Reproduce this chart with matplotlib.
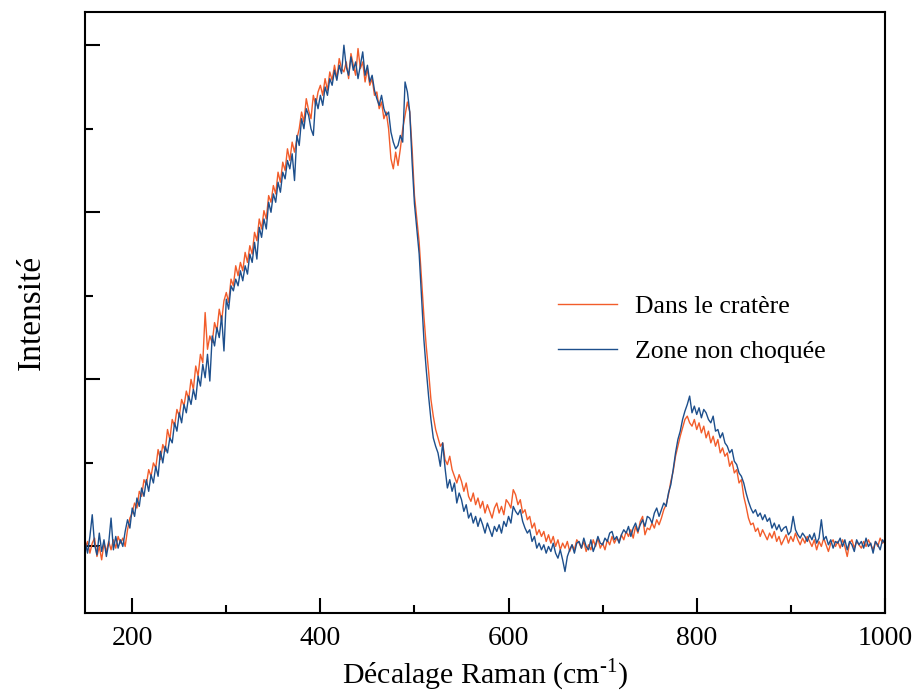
import numpy as np
import matplotlib
matplotlib.use('Agg')
import matplotlib.pyplot as plt
from matplotlib.ticker import MultipleLocator

plt.rcParams['font.family'] = ['Liberation Serif', 'DejaVu Serif']
plt.rcParams['mathtext.fontset'] = 'custom'
plt.rcParams['mathtext.rm'] = 'Liberation Serif'

# Raman shift (cm-1), one reading every 2.5 cm-1
shift = np.arange(150, 1000.1, 2.5)

# "Dans le cratère" (orange), 10 readings per row = 25 cm-1
crater = [
    -10, 30, -40, 20, 50, -60, 0, -80, 20, -30,
    30, -20, 40, -10, 60, 20, 50, 0, 100, 170,
    200, 260, 230, 330, 300, 400, 370, 460, 420, 500,
    470, 580, 520, 610, 570, 700, 640, 760, 720, 820,
    780, 880, 840, 930, 880, 1000, 940, 1080, 1020, 1150,
    1100, 1400, 1180, 1260, 1220, 1340, 1290, 1420, 1350, 1470,
    1520, 1460, 1600, 1560, 1680, 1620, 1700, 1650, 1760, 1700,
    1800, 1750, 1880, 1830, 1960, 1900, 2010, 1960, 2100, 2060,
    2160, 2110, 2240, 2180, 2300, 2250, 2380, 2310, 2420, 2360,
    2440, 2500, 2600, 2540, 2680, 2610, 2560, 2700, 2640, 2720,
    2760, 2700, 2800, 2730, 2840, 2790, 2880, 2800, 2920, 2860,
    2840, 2900, 2800, 2950, 2880, 2820, 2980, 2860, 2900, 2780,
    2860, 2760, 2800, 2700, 2720, 2620, 2660, 2560, 2600, 2500,
    2320, 2260, 2360, 2280, 2380, 2500, 2580, 2660, 2600, 2380,
    2100, 1960, 1820, 1600, 1380, 1200, 1050, 880, 780, 700,
    650, 600, 620, 520, 490, 540, 460, 420, 380, 430,
    390, 330, 380, 300, 270, 320, 250, 290, 230, 270,
    200, 250, 210, 170, 230, 260, 200, 240, 190, 280,
    260, 230, 340, 310, 250, 280, 200, 220, 160, 180,
    110, 140, 70, 100, 60, 90, 30, 70, 20, 60,
    0, 40, -20, 20, -10, 30, -30, 10, -20, 40,
    20, -10, 30, -30, 10, -20, 40, 0, 50, -10,
    20, -20, 40, 10, 60, 20, 50, 30, 70, 40,
    90, 60, 100, 50, 120, 80, 150, 180, 70, 110,
    100, 140, 110, 160, 130, 170, 220, 250, 310, 390,
    450, 540, 600, 660, 710, 760, 780, 740, 720, 760,
    700, 740, 680, 720, 650, 690, 620, 660, 600, 640,
    560, 590, 540, 560, 480, 510, 440, 460, 380, 400,
    300, 240, 170, 130, 140, 90, 110, 60, 100, 70,
    40, 80, 50, 90, 30, 60, 10, 40, 70, 20,
    60, 30, 80, 40, 10, 50, 20, 60, 30, 0,
    40, -20, 30, 0, 50, 10, -30, 20, 40, 0,
    30, -10, 40, 0, -60, 20, 40, -10, 30, 10,
    -10, 30, 0, 40, 10, -20, 30, 0, 50, 20,
    30,
]

# "Zone non choquée" (blue)
intact = [
    30, -40, 60, 190, 10, -50, 80, -30, 40, -60,
    20, 170, -20, 60, -10, 40, 0, 90, 160, 110,
    230, 180, 290, 240, 350, 300, 400, 330, 430, 380,
    480, 420, 570, 500, 600, 560, 650, 620, 740, 690,
    800, 740, 850, 800, 900, 850, 940, 880, 1020, 960,
    1090, 1010, 1150, 990, 1260, 1200, 1310, 1250, 1380, 1170,
    1480, 1420, 1560, 1530, 1600, 1560, 1650, 1590, 1680, 1630,
    1750, 1700, 1820, 1720, 1910, 1850, 1960, 1900, 2060, 2000,
    2110, 2060, 2180, 2120, 2240, 2200, 2310, 2260, 2350, 2190,
    2460, 2400, 2560, 2500, 2620, 2580, 2500, 2460, 2680, 2620,
    2700, 2640, 2750, 2700, 2800, 2760, 2850, 2790, 2880, 2830,
    3000, 2870, 2820, 2930, 2850, 2900, 2800, 2880, 2960, 2820,
    2880, 2780, 2820, 2730, 2680, 2640, 2700, 2620, 2580, 2600,
    2480, 2420, 2380, 2400, 2460, 2420, 2780, 2720, 2600, 2300,
    2050, 1900, 1750, 1500, 1240, 1060, 900, 760, 650, 600,
    560, 480, 620, 470, 350, 400, 330, 380, 260, 320,
    280, 210, 250, 170, 200, 140, 180, 120, 170, 130,
    80, 140, 100, 60, 120, 90, 130, 80, 150, 120,
    180, 140, 240, 210, 190, 220, 150, 110, 80, 100,
    30, 60, -10, 20, -20, 10, -40, 0, -30, 20,
    -40, -70, -20, -80, -150, -60, -20, 10, -40, 20,
    30, -10, 50, 0, -20, 40, -30, 10, 60, 20,
    10, 50, 30, 80, 90, 40, 60, 20, 70, 100,
    80, 120, 60, 110, 140, 90, 130, 160, 120, 180,
    170, 140, 200, 230, 180, 220, 260, 240, 320, 370,
    460, 560, 640, 690, 760, 810, 850, 900, 800, 840,
    790, 830, 770, 820, 800, 760, 740, 780, 690, 700,
    650, 680, 620, 600, 560, 580, 510, 490, 440, 420,
    380, 320, 270, 230, 200, 220, 180, 200, 160, 190,
    150, 170, 110, 140, 100, 130, 90, 110, 120, 70,
    90, 180, 100, 70, 50, 80, 60, 30, 70, 40,
    80, 20, 50, 160, 40, 60, 10, 40, -10, 30,
    20, 50, 0, 40, -20, 30, 10, -30, 40, 10,
    30, -10, 50, 0, 20, -40, 30, 10, -20, 40,
    20,
]

fig = plt.figure(figsize=(9.16, 6.93), dpi=100)
ax = fig.add_axes([0.093, 0.115, 0.873, 0.868])

ax.plot(shift, crater, color='#F25C2A', lw=1.0, label='Dans le cratère')
ax.plot(shift, intact, color='#1D4F8C', lw=1.0, label='Zone non choquée')

ax.set_xlim(150, 1000)
ax.set_ylim(-400, 3200)
ax.xaxis.set_major_locator(MultipleLocator(200))
ax.xaxis.set_minor_locator(MultipleLocator(100))
ax.yaxis.set_major_locator(MultipleLocator(1000))
ax.yaxis.set_minor_locator(MultipleLocator(500))
ax.tick_params(which='both', direction='in', width=1.5, labelsize=20,
               top=False, right=False)
ax.tick_params(which='major', length=11)
ax.tick_params(which='minor', length=6)
ax.tick_params(axis='y', labelleft=False)
ax.tick_params(axis='x', pad=9)
for s in ax.spines.values():
    s.set_linewidth(1.5)

ax.set_xlabel('Décalage Raman (cm$^{\u2010 1}$)', fontsize=21.5, labelpad=4)
ax.set_ylabel('Intensité', fontsize=24, labelpad=24)

ax.legend(loc='upper left', bbox_to_anchor=(0.562, 0.568), frameon=False,
          fontsize=18.5, handlelength=2.3, handletextpad=0.7, labelspacing=0.85)

plt.savefig('out.png', dpi=100)
